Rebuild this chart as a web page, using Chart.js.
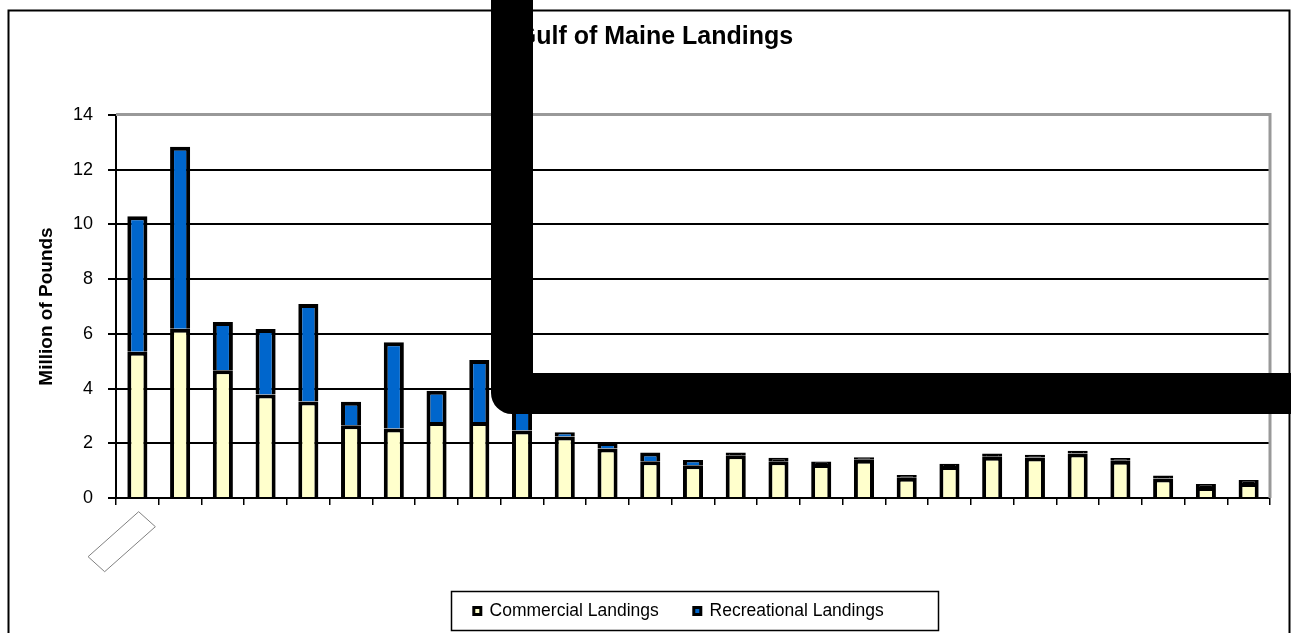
<!DOCTYPE html>
<html>
<head>
<meta charset="utf-8">
<script src="https://cdn.jsdelivr.net/npm/chart.js@4.4.1/dist/chart.umd.min.js"></script>
<style>
  html, body { margin: 0; padding: 0; background: #fff; overflow: hidden; }
  #wrap { position: relative; width: 1291px; height: 633px; }
</style>
</head>
<body>
<div id="wrap"><canvas id="landingsChart" width="1291" height="633"></canvas></div>
<script>
/* Gulf of Maine landings - stacked bars, million pounds */

// x labels are not shown in the picture, so the categories stay blank
const categories = ['', '', '', '', '', '', '', '', '', '', '', '', '', '', '', '', '', '', '', '', '', '', '', '', '', '', ''];
const commercial = [5.35, 6.19, 4.67, 3.78, 3.53, 2.66, 2.54, 2.78, 2.78, 2.47, 2.25, 1.81, 1.34, 1.2, 1.56, 1.34, 1.24, 1.4, 0.74, 1.17, 1.51, 1.48, 1.63, 1.36, 0.71, 0.4, 0.55];
const recreational = [4.95, 6.65, 1.76, 2.4, 3.56, 0.86, 3.15, 1.14, 2.26, 1.75, 0.15, 0.19, 0.32, 0.19, 0.1, 0.13, 0.09, 0.09, 0.1, 0.08, 0.12, 0.1, 0.1, 0.1, 0.11, 0.11, 0.11];
const yTicks = [0, 2, 4, 6, 8, 10, 12, 14];

Chart.defaults.font.family = '"Liberation Sans", Arial, sans-serif';
Chart.defaults.color = '#000';

// extra drawing: plot frame, legend box, empty label box, outer border, black overlay
const frame = {
  id: 'frame',
  afterLayout(chart) {
    const lg = chart.legend;
    lg.top -= 3.25;
    lg.bottom -= 3.25;
    lg.left -= 14.25;
    lg.right -= 14.25;
    // title sits a little right of the canvas centre
    chart.titleBlock.left += 16;
    chart.titleBlock.right += 16;
  },
  afterDatasetsDraw(chart) {
    const {ctx, chartArea: a} = chart;
    ctx.save();
    ctx.strokeStyle = '#999';
    ctx.lineWidth = 3;
    ctx.beginPath();
    ctx.moveTo(a.left, a.top - 0.5);
    ctx.lineTo(a.right, a.top - 0.5);
    ctx.lineTo(a.right, a.bottom);
    ctx.stroke();
    ctx.restore();
  },
  afterDraw(chart) {
    const {ctx, chartArea: a} = chart;
    ctx.save();

    // legend border
    const hb = chart.legend.legendHitBoxes;
    if (hb && hb.length) {
      const last = hb[hb.length - 1];
      const cy = hb[0].top + hb[0].height / 2;
      const l = hb[0].left - 23, r = last.left + last.width + 54;
      ctx.strokeStyle = '#000';
      ctx.lineWidth = 1.5;
      ctx.strokeRect(Math.round(l) + 0.5, Math.round(cy - 20) + 0.5, Math.round(r - l), 39);
    }

    // empty, rotated label box under the first category
    const x0 = chart.scales.x.getPixelForValue(0);
    const y0 = a.bottom;
    ctx.strokeStyle = '#808080';
    ctx.lineWidth = 1;
    ctx.beginPath();
    ctx.moveTo(x0 + 1.3, y0 + 13.7);
    ctx.lineTo(x0 + 18, y0 + 28.7);
    ctx.lineTo(x0 - 32.7, y0 + 73.7);
    ctx.lineTo(x0 - 49.3, y0 + 58.7);
    ctx.closePath();
    ctx.stroke();

    // outer chart border
    ctx.strokeStyle = '#000';
    ctx.lineWidth = 2;
    ctx.strokeRect(8.5, 10.5, 1281, 640);

    // black overlay drawn over the picture
    const r = 21;
    ctx.fillStyle = '#000';
    ctx.beginPath();
    ctx.moveTo(491, 0);
    ctx.lineTo(533, 0);
    ctx.lineTo(533, 373);
    ctx.lineTo(1291, 373);
    ctx.lineTo(1291, 414);
    ctx.lineTo(491 + r, 414);
    ctx.arcTo(491, 414, 491, 414 - r, r);
    ctx.closePath();
    ctx.fill();
    ctx.restore();
  }
};

const ctx = document.getElementById('landingsChart');
new Chart(ctx, {
  type: 'bar',
  data: {
    labels: categories,
    datasets: [
      {
        label: 'Commercial Landings',
        data: commercial,
        backgroundColor: '#FFFFCC',
        borderColor: '#000',
        borderWidth: 4,
        inflateAmount: 0,
        barPercentage: 0.47,
        categoryPercentage: 1
      },
      {
        label: 'Recreational Landings',
        data: recreational,
        // very thin segments vanish under the black outline in the original
        backgroundColor: c => (c.raw < 0.14 ? '#000' : '#0066CC'),
        borderColor: '#000',
        borderWidth: 4,
        inflateAmount: 0,
        barPercentage: 0.47,
        categoryPercentage: 1
      }
    ]
  },
  options: {
    responsive: false,
    animation: false,
    layout: { padding: { left: 8, right: 21, top: 0, bottom: 0 } },
    plugins: {
      title: {
        display: true,
        text: 'Gulf of Maine Landings',
        font: { size: 25, weight: 'bold' },
        color: '#000',
        padding: { top: 22, bottom: 63 }
      },
      legend: {
        position: 'bottom',
        fullSize: false,
        labels: {
          boxWidth: 7,
          boxHeight: 7,
          padding: 35,
          font: { size: 17.5 },
          color: '#000',
          generateLabels(chart) {
            const items = Chart.defaults.plugins.legend.labels.generateLabels(chart);
            items.forEach(it => { it.lineWidth = 3; });
            return items;
          }
        }
      },
      tooltip: { enabled: false }
    },
    scales: {
      x: {
        stacked: true,
        grid: { offset: true, drawOnChartArea: false, color: '#000', lineWidth: 1.5, tickLength: 7 },
        border: { color: '#000', width: 2 },
        ticks: { display: true },
        afterFit: s => { s.height = 72.5; }
      },
      y: {
        stacked: true,
        min: 0,
        max: 14,
        afterBuildTicks: s => { s.ticks = yTicks.map(v => ({ value: v })); },
        ticks: { padding: 15, font: { size: 18 }, color: '#000' },
        grid: { color: '#000', lineWidth: 2, tickLength: 8 },
        border: { color: '#000', width: 2 },
        title: {
          display: true,
          text: 'Million of Pounds',
          font: { size: 19, weight: 'bold' },
          color: '#000',
          padding: { top: 27.6, bottom: 0 }
        },
        afterFit: s => { s.width = 108; }
      }
    }
  },
  plugins: [frame]
});
</script>
</body>
</html>
